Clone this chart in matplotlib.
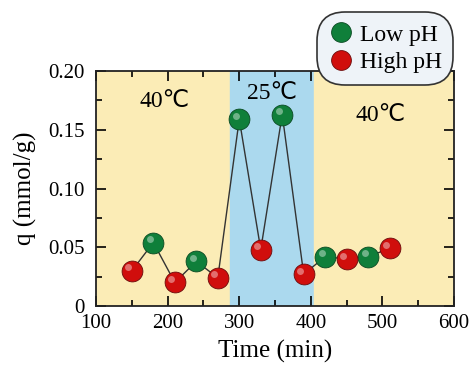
import numpy as np
import matplotlib.pyplot as plt
import matplotlib.transforms as mtrans
from matplotlib.ticker import MultipleLocator, FixedFormatter, FixedLocator

time = [150, 180, 210, 240, 270, 300, 330, 360, 390, 420, 450, 480, 510]
q = [0.030, 0.054, 0.020, 0.038, 0.024, 0.159, 0.048, 0.163, 0.027, 0.042, 0.040, 0.042, 0.049]
ph = ['High', 'Low', 'High', 'Low', 'High', 'Low', 'High', 'Low', 'High', 'Low', 'High', 'Low', 'High']
cool_span = (287, 405)
temp_labels = [(196, 0.174, '40\u2103'), (346, 0.181, '25\u2103'), (497, 0.162, '40\u2103')]

serif = ['Liberation Serif', 'DejaVu Sans']
plt.rcParams['font.family'] = serif

fig = plt.figure(figsize=(4.71, 3.70), dpi=100)
ax = fig.add_axes([0.204, 0.173, 0.76, 0.635])

ax.set_xlim(100, 600)
ax.set_ylim(0, 0.20)
ax.axvspan(100, cool_span[0], color='#fbecb6', zorder=0)
ax.axvspan(cool_span[0], cool_span[1], color='#abd9ee', zorder=0)
ax.axvspan(cool_span[1], 600, color='#fbecb6', zorder=0)

ax.plot(time, q, color='#333333', lw=1.0, zorder=2)

colors = {'Low': '#0f7f3a', 'High': '#d00e0c'}
edges = {'Low': '#0a4a22', 'High': '#6a0c0c'}
shine = ax.transData + mtrans.ScaledTranslation(-2.5 / 72, 2.5 / 72, fig.dpi_scale_trans)
for p in ['Low', 'High']:
    xs = [t for t, c in zip(time, ph) if c == p]
    ys = [v for v, c in zip(q, ph) if c == p]
    ax.plot(xs, ys, 'o', ms=15, color=colors[p], mec=edges[p],
            mew=0.6, zorder=3, label=p + ' pH')
    # highlight to mimic the shaded spheres
    ax.plot(xs, ys, 'o', ms=5, color='white', alpha=0.4, mew=0, zorder=4,
            transform=shine)

for x, y, s in temp_labels:
    ax.text(x, y, s, ha='center', va='center', fontsize=17)

ax.xaxis.set_major_locator(MultipleLocator(100))
ax.xaxis.set_minor_locator(MultipleLocator(50))
ax.yaxis.set_major_locator(FixedLocator([0, 0.05, 0.10, 0.15, 0.20]))
ax.yaxis.set_major_formatter(FixedFormatter(['0', '0.05', '0.10', '0.15', '0.20']))
ax.yaxis.set_minor_locator(MultipleLocator(0.025))
ax.tick_params(which='both', direction='in', top=True, right=True, labelsize=15)
ax.tick_params(axis='x', pad=6)
ax.tick_params(axis='y', pad=8)
ax.tick_params(which='major', length=7, width=1.2)
ax.tick_params(which='minor', length=4, width=1.2)
for s in ax.spines.values():
    s.set_linewidth(1.3)
    s.set_color('#222222')

ax.set_xlabel('Time (min)', fontsize=18, labelpad=5)
ax.set_ylabel('q (mmol/g)', fontsize=18, labelpad=8)

leg = ax.legend(loc='upper right', bbox_to_anchor=(1.018, 1.28), fontsize=17,
                handletextpad=0.3, borderpad=0.3, labelspacing=0.25,
                markerscale=0.95, fancybox=True, framealpha=1, handlelength=1.0)
leg.get_frame().set_facecolor('#eef3f8')
leg.get_frame().set_edgecolor('#333333')
leg.get_frame().set_linewidth(1.2)
leg.get_frame().set_boxstyle('round,pad=0.2,rounding_size=1.2')
leg.set_zorder(10)

fig.savefig('out.png', dpi=100)
